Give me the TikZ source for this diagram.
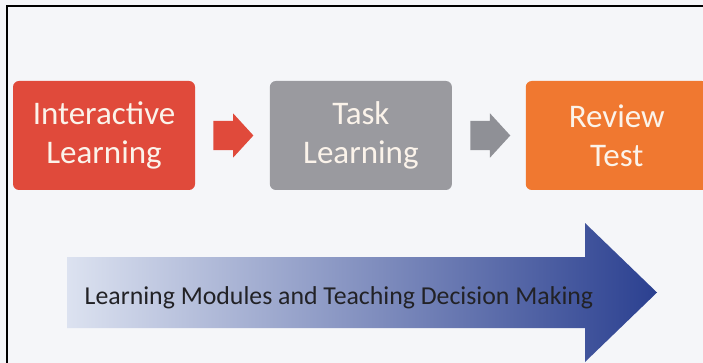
\documentclass[tikz,border=0pt]{standalone}
\usepackage{fontspec}
\setmainfont{Carlito}
\usepackage{tikz}
\usetikzlibrary{positioning,shapes.arrows}

\definecolor{canvas}{HTML}{F5F6F9}
\definecolor{stagered}{HTML}{E04A3B}
\definecolor{stagegray}{HTML}{9A9A9F}
\definecolor{flowgray}{HTML}{8F9096}
\definecolor{stageorange}{HTML}{F07830}
\definecolor{stagetext}{HTML}{FBF3EA}
\definecolor{bandlight}{HTML}{DCE2F0}
\definecolor{bandmid}{HTML}{9FADDA}
\definecolor{banddark}{HTML}{2B4090}
\definecolor{bandtext}{HTML}{222226}

\begin{document}
\begin{tikzpicture}[
  x=1pt, y=-1pt,
  every node/.style={font=\fontsize{33}{39}\selectfont},
  stage/.style={rounded corners=6pt, minimum width=182pt, minimum height=109pt,
    align=center, text=stagetext, inner sep=0pt},
  flow/.style={single arrow, single arrow head extend=7.5pt,
    single arrow tip angle=95, minimum height=40pt,
    inner xsep=0pt, inner ysep=14.5pt},
]
% Canvas and frame
\clip (0,0) rectangle (703,363);
\fill[canvas] (0,0) rectangle (703,363);
\draw[line width=2pt] (7,400) |- (720,6);

% Stages
\node[stage, fill=stagered] (inter) at (104,135.5) {Interactive\\Learning};
\node[flow, fill=stagered, right=18pt of inter] (go1) {};
\node[stage, fill=stagegray, right=16pt of go1] (task) {Task\\Learning};
\node[flow, fill=flowgray, right=18pt of task] (go2) {};
\node[stage, fill=stageorange, right=15pt of go2] (review) {Review\\Test};

% Big band arrow
\path[left color=bandlight, middle color=bandmid, right color=banddark]
  (67,257) -- (585,257) -- (585,223) -- (657,292.5) -- (585,362)
  -- (585,328) -- (67,328) -- cycle;
\node[font=\fontsize{25.8}{30}\selectfont, text=bandtext] (modules) at (339,298)
  {Learning Modules and Teaching Decision Making};
\end{tikzpicture}
\end{document}
